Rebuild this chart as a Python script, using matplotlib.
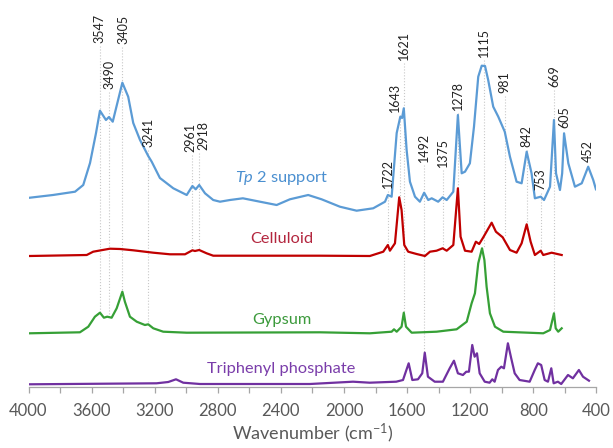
import numpy as np
import matplotlib
matplotlib.use("Agg")
import matplotlib.pyplot as plt

plt.rcParams['font.family'] = ['Lato', 'DejaVu Sans']
plt.rcParams['mathtext.fontset'] = 'custom'
plt.rcParams['mathtext.rm'] = 'Lato'
plt.rcParams['mathtext.it'] = 'Lato:italic'

# FTIR spectra, stacked (arbitrary absorbance units incl. offset)
tp2_wn = [3991, 3845, 3705, 3653, 3610, 3572, 3547, 3509, 3490, 3466, 3405, 3368, 3336, 3293,
          3241, 3219, 3167, 3082, 2997, 2961, 2940, 2918, 2881, 2829, 2786, 2723, 2641, 2533,
          2427, 2343, 2227, 2142, 2026, 1920, 1815, 1740, 1722, 1698, 1666, 1643, 1632, 1621,
          1603, 1582, 1550, 1519, 1492, 1466, 1444, 1403, 1375, 1349, 1307, 1278, 1254, 1233,
          1202, 1176, 1149, 1127, 1106, 1086, 1054, 1022, 981, 948, 906, 874, 842, 811, 790,
          753, 732, 694, 669, 656, 631, 617, 605, 578, 536, 493, 452, 420, 403]
tp2_abs = [189.6, 192.3, 195.6, 202.3, 224.3, 254.3, 276.6, 267.3, 270.3, 265.6, 304.6, 290.6,
           264.3, 247.3, 231.3, 225.6, 209.3, 199, 192.3, 201.3, 198, 202.3, 194, 187.3, 185.6,
           187.3, 189, 185.6, 182.3, 188, 192.3, 188, 180.6, 176.6, 179, 185.6, 192.3, 190.6,
           254.3, 270.6, 269.3, 279, 237.3, 205.6, 190.6, 185.6, 194.6, 187.3, 189, 185.6, 190,
           187.3, 195.6, 272.3, 214, 215.6, 224, 260.6, 310.6, 321.6, 321.3, 307.3, 280.6,
           270.6, 255.6, 230.6, 205.6, 204, 235.6, 214, 189, 190.6, 187.3, 200.6, 267.3, 214,
           197.3, 214, 254, 224, 200.6, 204, 220.6, 207.3, 198]

cel_wn = [3995, 3631, 3590, 3484, 3420, 3336, 3209, 3103, 3008, 2961, 2945, 2918, 2871, 2829,
          2152, 1836, 1751, 1722, 1709, 1677, 1650, 1635, 1618, 1593, 1540, 1487, 1455, 1413,
          1375, 1349, 1307, 1278, 1261, 1233, 1191, 1164, 1143, 1117, 1064, 1037, 994, 948,
          906, 874, 842, 817, 790, 753, 737, 684, 620]
cel_abs = [131.3, 132.3, 135.6, 138.6, 138.3, 137, 134.6, 133, 133, 137, 136.3, 137.3, 134,
           131.6, 131.6, 131.3, 135.6, 142.3, 136.6, 144, 190, 177.3, 142.3, 135.6, 133.3,
           131.3, 135.6, 136.6, 139, 136.6, 142.3, 199, 150.6, 136.6, 135.6, 145.6, 143.3,
           150, 164.6, 155.6, 150, 137.3, 134.6, 144, 163, 145.6, 132.3, 136.6, 132.3, 134.6,
           132.3]

gyp_wn = [3995, 3674, 3621, 3579, 3547, 3522, 3501, 3473, 3441, 3405, 3389, 3357, 3314, 3262,
          3241, 3209, 3146, 2997, 2152, 1836, 1698, 1683, 1666, 1635, 1621, 1607, 1571, 1413,
          1286, 1222, 1191, 1170, 1149, 1125, 1110, 1096, 1075, 1043, 990, 737, 694, 669, 658,
          642, 620]
gyp_abs = [54, 55, 60.6, 70.6, 74.6, 69.6, 70.6, 69.6, 79, 95.6, 85.6, 70.6, 65.6, 62.3, 63,
           59, 55.6, 54.6, 55, 54, 55.6, 58, 55.6, 60.6, 74.6, 60.6, 54.6, 55.6, 58, 65.6, 84,
           94, 124, 139, 127.3, 100.6, 74, 60.6, 55.6, 54, 57.3, 74, 59, 55.6, 59]

tpp_wn = [3995, 3188, 3114, 3065, 3019, 2913, 2216, 1943, 1837, 1669, 1626, 1590, 1567, 1531,
          1504, 1488, 1468, 1425, 1373, 1330, 1303, 1278, 1246, 1225, 1208, 1187, 1172, 1157,
          1140, 1108, 1077, 1060, 1045, 1024, 1003, 986, 961, 940, 918, 887, 823, 791, 771,
          750, 728, 707, 686, 671, 644, 623, 580, 549, 511, 485, 447]
tpp_abs = [3, 4, 5.3, 8, 4.6, 3.3, 3.3, 5.6, 4.6, 5.6, 7.3, 24, 7.3, 8, 14, 34.6, 10.6, 5.6,
           5.6, 19, 26.6, 14, 12.3, 15.6, 15.6, 42.3, 30.6, 34, 14, 5.6, 4.6, 8, 5.6, 17.3,
           20.6, 19, 44, 29, 14, 7.3, 5.6, 17.3, 24, 22.3, 7.3, 5.6, 19, 4, 5.6, 3.3, 12.3, 9,
           17.3, 10.6, 6.6]

# peak labels: wavenumber, label x (spread where crowded), label base height,
# end of guide line (None = no line)
peak_wn = [3547, 3490, 3405, 3241, 2961, 2918, 1722, 1643, 1621, 1492, 1375, 1278,
           1115, 981, 842, 753, 669, 605, 452]
peak_txt_x = [3547, 3484, 3397, 3241, 2976, 2894, 1722, 1675, 1617, 1492, 1375, 1278,
              1115, 981, 842, 753, 669, 605, 452]
peak_txt_y = [344, 298, 343, 240, 235, 237, 199, 275, 327, 225, 220, 277,
              330, 294, 240, 197, 300, 259, 225]
peak_line_end = [75, 70, 95, 63, 137, 137, 142, 190, 74, 35, 139, 199,
                 139, 150, 163, 137, 74, None, None]

series = [
    (tp2_wn, tp2_abs, '#5B9BD5', '#4A8FD0', r'$\mathit{Tp\ 2}$ support', 209),
    (cel_wn, cel_abs, '#C00000', '#B3263E', 'Celluloid', 148),
    (gyp_wn, gyp_abs, '#36A036', '#3C9A3C', 'Gypsum', 67),
    (tpp_wn, tpp_abs, '#7030A0', '#7A3DAA', 'Triphenyl phosphate', 18),
]

fig = plt.figure(figsize=(6.13, 4.48), dpi=100, facecolor='white')
ax = fig.add_axes([28.5 / 613, 60.7 / 448, 567.9 / 613, 387.3 / 448])

# dotted guide lines
for w, ty, le in zip(peak_wn, peak_txt_y, peak_line_end):
    if le is not None:
        ax.plot([w, w], [ty - 3, le], ls=':', color='#C8C8C8', lw=0.8, zorder=1)

for wn, ab, lc, tc, name, ly in series:
    ax.plot(wn, ab, color=lc, lw=1.6, zorder=3, solid_joinstyle='round')
    ax.text(2396, ly, name, color=tc, fontsize=11.8, ha='center', va='center')

for tx, ty, w in zip(peak_txt_x, peak_txt_y, peak_wn):
    ax.text(tx, ty, str(w), rotation=90, ha='center', va='bottom',
            fontsize=9, color='#222222', clip_on=False)

ax.set_xlim(4000, 400)
ax.set_ylim(0, 387.3)
ax.set_xticks(np.arange(4000, 399, -400))
ax.set_xticks(np.arange(3800, 399, -400), minor=True)
ax.tick_params(axis='x', which='both', direction='out', length=4, width=0.9,
               colors='#A6A6A6', labelcolor='#595959', labelsize=12, pad=7)
ax.set_yticks([])
for s in ['top', 'right', 'left']:
    ax.spines[s].set_visible(False)
ax.spines['bottom'].set_color('#A6A6A6')
ax.spines['bottom'].set_linewidth(0.9)
ax.set_xlabel('Wavenumber (cm$^{-1}$)', fontsize=13, color='#595959', labelpad=2)
ax.patch.set_alpha(0)

fig.savefig('out.png', dpi=100)
